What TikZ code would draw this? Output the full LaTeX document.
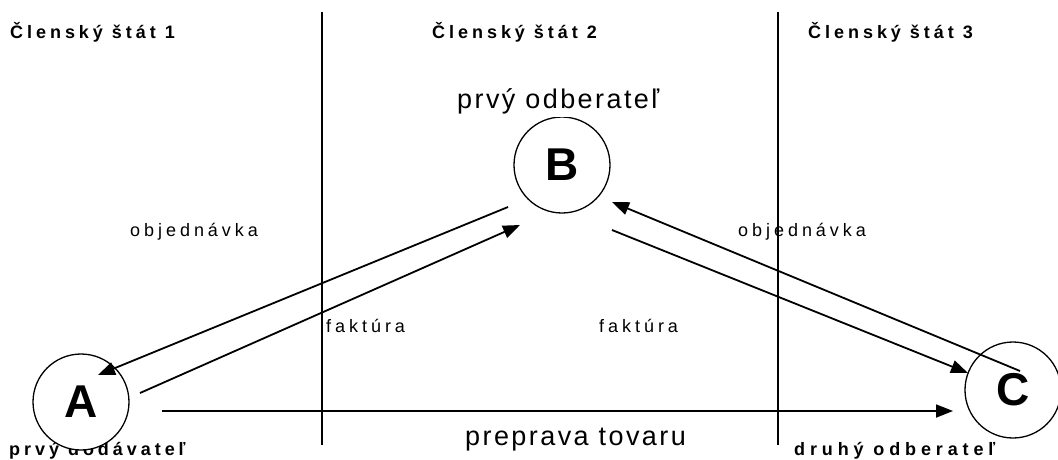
\documentclass[tikz,border=0pt]{standalone}
\usepackage{fontspec}
\setmainfont{Liberation Sans}
\newfontfamily\hdfont[LetterSpace=22]{Liberation Sans Bold}
\newfontfamily\hdwidefont[LetterSpace=27]{Liberation Sans Bold}
\newfontfamily\lblfont[LetterSpace=22]{Liberation Sans}
\newfontfamily\bigfont[LetterSpace=9]{Liberation Sans}
\usetikzlibrary{arrows.meta,calc}
\begin{document}
\begin{tikzpicture}[x=1pt,y=-1pt,
  head/.style={font=\hdfont\fontsize{18}{20}\selectfont,inner sep=0pt,anchor=base west},
  headwide/.style={head,font=\hdwidefont\fontsize{18}{20}\selectfont},
  lbl/.style={font=\lblfont\fontsize{18}{20}\selectfont,inner sep=0pt,anchor=base west},
  big/.style={font=\bigfont\fontsize{27}{30}\selectfont,inner sep=0pt,anchor=base west},
  party/.style={circle,draw,line width=1.3pt,fill=white,minimum size=96pt,inner sep=0pt,font=\bfseries\fontsize{46}{48}\selectfont},
  border/.style={line width=1.3pt},
  flow/.style={line width=1.8pt,-{Triangle[length=17pt,width=13pt]}}]
\useasboundingbox (0,0) rectangle (1058,459);
% borders
\coordinate (l1t) at (322,12); \coordinate (l1b) at (322,445);
\coordinate (l2t) at (778,12); \coordinate (l2b) at (778,445);
\draw[border] (l1t) -- (l1b);
\draw[border] (l2t) -- (l2b);
% headers
\node[head] (h1) at (10,38) {Členský štát 1};
\node[head] (h2) at (432,38) {Členský štát 2};
\node[head] (h3) at (808,38) {Členský štát 3};
% bottom labels
\node[head] (la) at (9,455) {prvý dodávateľ};
\node[headwide] (lc) at (794,455) {druhý odberateľ};
% parties
\node[party] (A) at (81,402) {A};
\node[party] (B) at (562,165) {B};
\node[party] (C) at (1013,390) {C};
\node[big,fill=white,inner ysep=3pt] (lb) at (457,108) {prvý odberateľ};
% flow labels
\node[lbl] (o1) at (130,236) {objednávka};
\node[lbl] (o2) at (738,236) {objednávka};
\node[lbl] (f1) at (326,332) {faktúra};
\node[lbl] (f2) at (599,332) {faktúra};
\node[big] (pt) at (465,445) {preprava tovaru};
% flow end points
\coordinate (ba0) at ($(B.center)+(-54,42)$);
\coordinate (ba1) at ($(A.center)+(17,-27)$);
\coordinate (ab0) at ($(A.center)+(59,-9)$);
\coordinate (ab1) at ($(B.center)+(-42,60)$);
\coordinate (cb0) at ($(C.center)+(7,-19)$);
\coordinate (cb1) at ($(B.center)+(50,37)$);
\coordinate (bc0) at ($(B.center)+(50,65)$);
\coordinate (bc1) at ($(C.center)+(-45,-17)$);
\coordinate (ac0) at ($(A.center)+(81,9)$);
\coordinate (ac1) at ($(C.center)+(-60,21)$);
\draw[flow] (ba0) -- (ba1);
\draw[flow] (ab0) -- (ab1);
\draw[flow] (cb0) -- (cb1);
\draw[flow] (bc0) -- (bc1);
\draw[flow] (ac0) -- (ac1);
\end{tikzpicture}
\end{document}
